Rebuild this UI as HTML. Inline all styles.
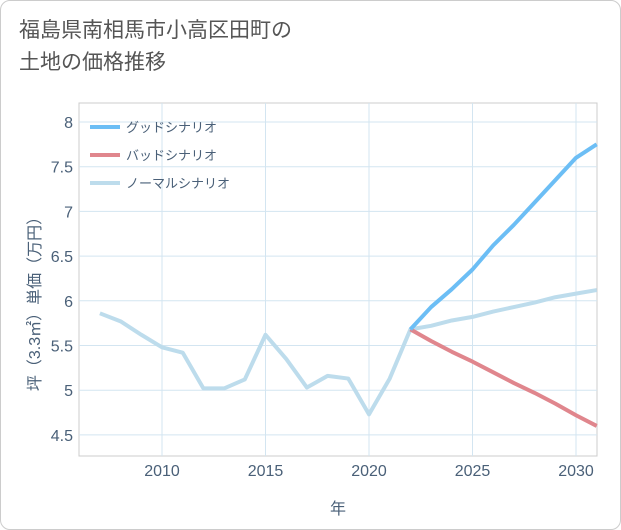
<!DOCTYPE html>
<html><head><meta charset="utf-8"><style>
body{margin:0;background:#fff;font-family:"Liberation Sans","Noto Sans CJK JP",sans-serif;}
#card{position:absolute;left:0;top:0;width:619px;height:528px;border:1px solid #ccc;border-radius:10px;background:#fff;}
#title{position:absolute;left:18px;top:14px;font-size:21px;line-height:32px;color:#555;}
</style></head><body>
<div id="card">
<div id="title">福島県南相馬市小高区田町の<br>土地の価格推移</div>
<svg id="chart" width="621" height="530" style="position:absolute;left:-1px;top:-1px"></svg>
</div>
<script>
const years=[2007,2008,2009,2010,2011,2012,2013,2014,2015,2016,2017,2018,2019,2020,2021,2022,2023,2024,2025,2026,2027,2028,2029,2030,2031];
const normal=[5.86,5.77,5.62,5.48,5.42,5.02,5.02,5.12,5.62,5.35,5.03,5.16,5.13,4.73,5.13,5.68,5.72,5.78,5.82,5.88,5.93,5.98,6.04,6.08,6.12];
const goodYears=[2022,2023,2024,2025,2026,2027,2028,2029,2030,2031];
const good=[5.68,5.93,6.13,6.35,6.62,6.85,7.1,7.35,7.6,7.75];
const bad=[5.68,5.55,5.43,5.32,5.2,5.08,4.97,4.85,4.72,4.6];
const xTicks=[2010,2015,2020,2025,2030];
const yTicks=[4.5,5,5.5,6,6.5,7,7.5,8];
const legendLabels=["グッドシナリオ","バッドシナリオ","ノーマルシナリオ"];
const colors=["#6cbef5","#e0868d","#bddcec"];
const svg=document.getElementById('chart');const NS='http://www.w3.org/2000/svg';
const L=79,R=597,T=103,B=456;
const txt='#4a6078';
const x=v=>162+(v-2010)*20.7;
const y=v=>122+(8-v)*89.4;
function mk(t,a){const e=document.createElementNS(NS,t);for(const k in a)e.setAttribute(k,a[k]);svg.appendChild(e);return e;}
const bg=mk('rect',{x:L,y:T,width:R-L,height:B-T,fill:'#fff',stroke:'#ccc'});


xTicks.forEach(v=>{const g=mk('line',{x1:x(v),x2:x(v),y1:T,y2:B,stroke:'#d3e5f1'});


const t=mk('text',{x:x(v),y:476,'text-anchor':'middle','font-size':16,fill:txt});t.textContent=v;

});
yTicks.forEach(v=>{const g=mk('line',{x1:L,x2:R,y1:y(v),y2:y(v),stroke:'#d3e5f1'});


const t=mk('text',{x:73,y:y(v)+6,'text-anchor':'end','font-size':16,fill:txt});t.textContent=v;

});
function line(xs,vs,c,name){const p=mk('polyline',{points:xs.map((yr,i)=>x(yr)+','+y(vs[i])).join(' '),fill:'none',stroke:c,'stroke-width':4,'stroke-linejoin':'round'});

}
line(years,normal,colors[2],'normal-series');
line(goodYears,bad,colors[1],'bad-series');
line(goodYears,good,colors[0],'good-series');
legendLabels.forEach((s,i)=>{const yy=127+i*28;const l=mk('line',{x1:90,x2:120,y1:yy,y2:yy,stroke:colors[i],'stroke-width':4});


const t=mk('text',{x:126,y:yy+5,'font-size':13,fill:txt});t.textContent=s;

});
const xt=mk('text',{x:338,y:514,'text-anchor':'middle','font-size':16,fill:txt});xt.textContent='年';


const yt=mk('text',{x:0,y:0,'text-anchor':'middle','font-size':16,fill:txt,transform:'translate(40,300) rotate(-90)'});yt.textContent='坪（3.3㎡）単価（万円）';


</script>
</body></html>
